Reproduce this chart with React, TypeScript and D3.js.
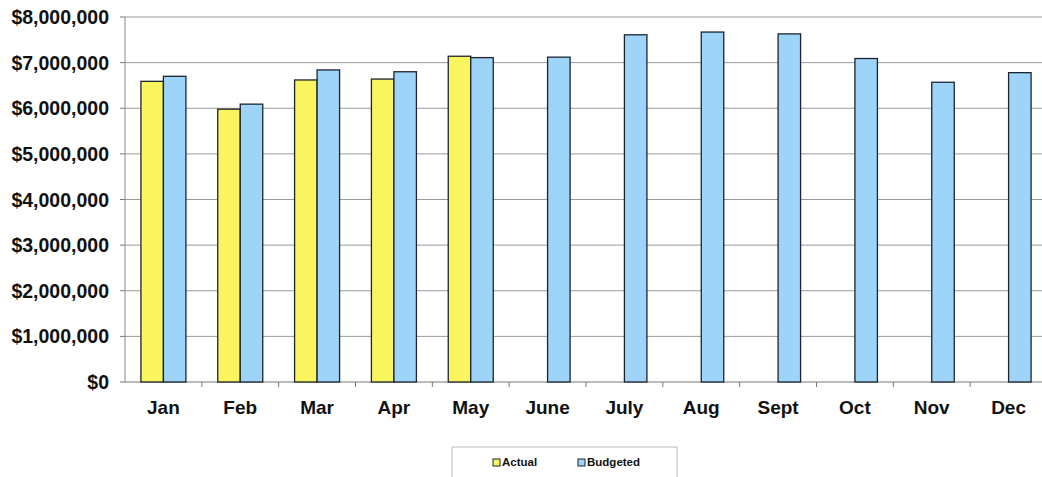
import React from "react";
import * as d3 from "d3";

const months = ["Jan", "Feb", "Mar", "Apr", "May", "June", "July", "Aug", "Sept", "Oct", "Nov", "Dec"];
const actual: (number | null)[] = [6590000, 5980000, 6620000, 6640000, 7140000, null, null, null, null, null, null, null];
const budgeted = [6700000, 6090000, 6840000, 6800000, 7110000, 7120000, 7610000, 7670000, 7630000, 7090000, 6570000, 6780000];
const yTicks = [0, 1000000, 2000000, 3000000, 4000000, 5000000, 6000000, 7000000, 8000000];

const W = 1042, H = 477;
const left = 125, right = 1047, top = 17, bottom = 382;

export default function App() {
  const x = d3.scaleBand<string>().domain(months).range([left, right]).padding(0);
  const y = d3.scaleLinear().domain([0, 8000000]).range([bottom, top]);
  const barW = 22.5;
  const fmt = (v: number) => "$" + d3.format(",")(v);
  const font = "'Liberation Sans', Arial, sans-serif";
  const yellow = "#FAF55F";
  const blue = "#9ED4F7";
  const stroke = "#1b2430";

  return (
    <div style={{ position: "absolute", left: 0, top: 0 }}>
      <svg width={W} height={H} style={{ display: "block", background: "#fff" }}>
        {yTicks.map((t) => (
          <g key={t}>
            {t > 0 && <line x1={left} x2={W} y1={y(t)} y2={y(t)} stroke="#9a9a9a" strokeWidth={1} />}
            <line x1={left - 5} x2={left} y1={y(t)} y2={y(t)} stroke="#777" />
            <text x={109} y={y(t)} dy="0.36em" textAnchor="end" fontFamily={font} fontWeight="bold" fontSize={19.5} fill="#111">
              {fmt(t)}
            </text>
          </g>
        ))}
        <line x1={left} x2={left} y1={top} y2={bottom} stroke="#888" />
        <line x1={left} x2={W} y1={bottom} y2={bottom} stroke="#777" />
        {months.map((m, i) => (
          <line key={"t" + i} x1={(x(m) as number) + x.bandwidth()} x2={(x(m) as number) + x.bandwidth()} y1={bottom} y2={bottom + 5} stroke="#777" />
        ))}
        {months.map((m, i) => {
          const cx = (x(m) as number) + x.bandwidth() / 2;
          const a = actual[i];
          return (
            <g key={m}>
              {a != null && (
                <rect x={cx - barW} y={y(a)} width={barW} height={bottom - y(a)} fill={yellow} stroke={stroke} strokeWidth={1.3} />
              )}
              <rect x={cx} y={y(budgeted[i])} width={barW} height={bottom - y(budgeted[i])} fill={blue} stroke={stroke} strokeWidth={1.3} />
              <text x={cx} y={414} textAnchor="middle" fontFamily={font} fontWeight="bold" fontSize={19} fill="#111">
                {m}
              </text>
            </g>
          );
        })}
        <rect x={452} y={447} width={225} height={40} fill="#fff" stroke="#bbb" />
        <rect x={493} y={459} width={7} height={7} fill={yellow} stroke={stroke} />
        <text x={502} y={466} fontFamily={font} fontWeight="bold" fontSize={11.5} fill="#111">Actual</text>
        <rect x={578} y={459} width={7} height={7} fill={blue} stroke={stroke} />
        <text x={587} y={466} fontFamily={font} fontWeight="bold" fontSize={11.5} fill="#111">Budgeted</text>
      </svg>
    </div>
  );
}
